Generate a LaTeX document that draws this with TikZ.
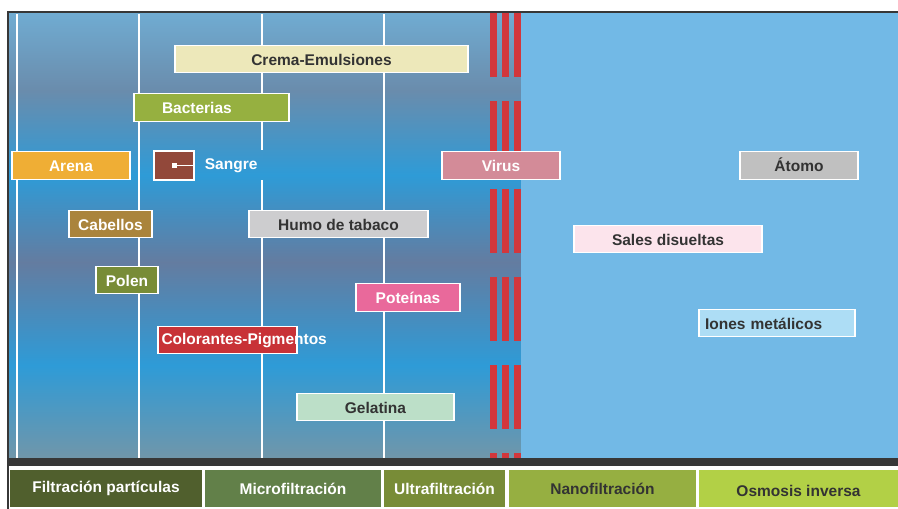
\documentclass[tikz,border=0pt]{standalone}
\usepackage{fontspec}
\setmainfont{Liberation Sans}
\usepackage{tikz}
\usepackage{xcolor}
\usetikzlibrary{positioning}

\definecolor{bgtop}{RGB}{112,172,210}
\definecolor{bggray}{RGB}{106,140,172}
\definecolor{bgblue}{RGB}{46,155,215}
\definecolor{bgdark}{RGB}{100,124,160}
\definecolor{bgbottom}{RGB}{112,150,170}
\definecolor{rightblue}{RGB}{114,185,230}
\definecolor{barred}{RGB}{210,55,60}
\definecolor{framegray}{RGB}{55,55,55}
\definecolor{txtdark}{RGB}{51,51,51}
\definecolor{cremafill}{RGB}{237,232,186}
\definecolor{bactfill}{RGB}{150,176,64}
\definecolor{arenafill}{RGB}{239,174,53}
\definecolor{sangfill}{RGB}{146,72,58}
\definecolor{virusfill}{RGB}{211,139,152}
\definecolor{atomofill}{RGB}{192,192,192}
\definecolor{cabfill}{RGB}{170,132,60}
\definecolor{humofill}{RGB}{205,205,207}
\definecolor{salesfill}{RGB}{252,228,236}
\definecolor{polenfill}{RGB}{120,140,55}
\definecolor{protfill}{RGB}{233,105,155}
\definecolor{ionesfill}{RGB}{173,221,245}
\definecolor{colorfill}{RGB}{200,50,55}
\definecolor{gelfill}{RGB}{188,223,200}
\definecolor{fpfill}{RGB}{80,95,45}
\definecolor{mffill}{RGB}{98,128,73}
\definecolor{uffill}{RGB}{120,140,55}
\definecolor{nffill}{RGB}{150,175,65}
\definecolor{osfill}{RGB}{178,208,70}

\newcommand{\lblfont}{\fontsize{15.5}{18}\selectfont\bfseries}

\begin{document}
\begin{tikzpicture}[x=1pt,y=-1pt]
\tikzstyle{box} = [rectangle, draw=white, line width=1.4pt, minimum height=27.5pt, inner sep=0pt, text height=12.5pt, text=white, font=\lblfont]
\tikzstyle{darkbox} = [box, text=txtdark]
\tikzstyle{tab} = [rectangle, minimum height=37pt, inner sep=0pt, text=white, font=\lblfont]
\tikzstyle{darktab} = [tab, text=txtdark]
\tikzstyle{sep} = [white, line width=2pt]

\useasboundingbox (0,0) rectangle (898,509);
\fill[white] (0,0) rectangle (898,509);

% background bands
\shade[top color=bgtop, bottom color=bggray] (8,12) rectangle (521,90.5);
\shade[top color=bggray, bottom color=bgblue] (8,90) rectangle (521,175.5);
\shade[top color=bgblue, bottom color=bgdark] (8,175) rectangle (521,262.5);
\shade[top color=bgdark, bottom color=bgblue] (8,262) rectangle (521,365.5);
\shade[top color=bgblue, bottom color=bgbottom] (8,365) rectangle (521,458);
\fill[rightblue] (521,12) rectangle (898,458);

% red bars
\begin{scope}
\clip (8,12) rectangle (898,458);
\foreach \y in {13,101,...,453}
  \foreach \x in {490,502,514}
    \fill[barred] (\x,\y) rectangle ++(7,64);
\end{scope}

% white lines
\draw[sep] (17,14) -- (17,458);
\draw[sep] (139,14) -- (139,458);
\draw[sep] (262,14) -- (262,150);
\draw[sep] (262,180) -- (262,458);
\draw[sep] (384,14) -- (384,458);

% frame
\fill[framegray] (7,458) rectangle (898,466);
\draw[framegray, line width=2.5pt] (8,509) -- (8,12) -- (898,12);

% particles
\node (crema) [darkbox, fill=cremafill, minimum width=293pt] at (321.5,59) {Crema-Emulsiones};
\node (bact) [box, fill=bactfill, text width=99pt, inner xsep=28pt, align=left] at (211.5,107.5) {Bacterias};
\node (arena) [box, fill=arenafill, minimum width=118pt] at (71,165.5) {Arena};
\node (sang) [box, fill=sangfill, minimum width=40pt, minimum height=29pt] at (174,165.5) {};
\node (sangdot) [fill=white, minimum size=5pt, inner sep=0pt] at (sang.center) {};
\draw[white, line width=1.5pt] (sangdot) -- (sang.east);
\node (sangtxt) [right=10pt of sang, inner sep=0pt, text=white, font=\lblfont] {Sangre};
\node (virus) [box, fill=virusfill, minimum width=118pt] at (501,165.5) {Virus};
\node (atomo) [darkbox, fill=atomofill, minimum width=118pt] at (799,165.5) {Átomo};
\node (cab) [box, fill=cabfill, minimum width=83pt] at (110.5,224) {Cabellos};
\node (humo) [darkbox, fill=humofill, minimum width=179pt] at (338.5,224) {Humo de tabaco};
\node (sales) [darkbox, fill=salesfill, minimum width=188pt] at (668,239) {Sales disueltas};
\node (polen) [box, fill=polenfill, minimum width=62pt] at (127,280) {Polen};
\node (prot) [box, fill=protfill, minimum width=104pt] at (408,297.5) {Poteínas};
\node (iones) [darkbox, fill=ionesfill, text width=144pt, inner xsep=6pt, align=left] at (777,323) {Iones metálicos};
\node (color) [box, fill=colorfill, minimum width=139pt] at (227.5,340) {};
\node (colortxt) [anchor=west, inner sep=0pt, text=white, font=\lblfont] at ([xshift=4pt, yshift=-1pt]color.west) {Colorantes-Pigmentos};
\node (gel) [darkbox, fill=gelfill, minimum width=157pt] at (375.5,407) {Gelatina};

% processes
\node (fp) [tab, fill=fpfill, minimum width=192pt] at (106,488.5) {Filtración partículas};
\node (mf) [tab, fill=mffill, minimum width=176pt] at (293,488.5) {Microfiltración};
\node (uf) [tab, fill=uffill, minimum width=121pt] at (444.5,488.5) {Ultrafiltración};
\node (nf) [darktab, fill=nffill, minimum width=187pt] at (602.5,488.5) {Nanofiltración};
\node (os) [darktab, fill=osfill, minimum width=199pt, text height=16pt] at (798.5,488.5) {Osmosis inversa};
\end{tikzpicture}
\end{document}
